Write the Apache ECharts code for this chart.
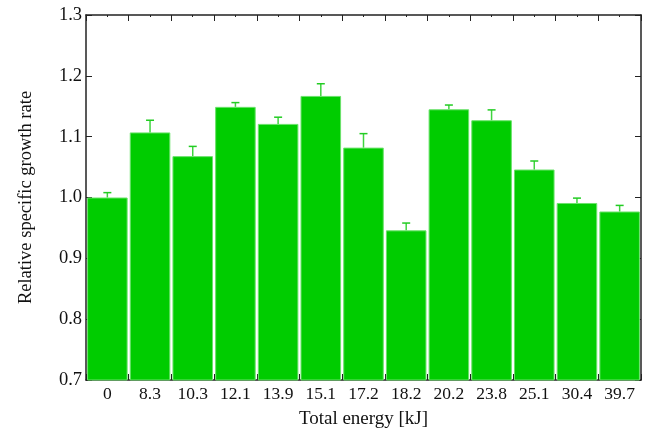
<!DOCTYPE html>
<html>
<head>
<meta charset="utf-8">
<script src="https://cdn.jsdelivr.net/npm/echarts@6/dist/echarts.min.js"></script>
<style>html,body{margin:0;padding:0;background:#fff}#c{width:645px;height:432px}</style>
</head>
<body>
<div id="c"></div>
<script>
const categories = ['0','8.3','10.3','12.1','13.9','15.1','17.2','18.2','20.2','23.8','25.1','30.4','39.7'];
const values = [1.000,1.107,1.068,1.149,1.121,1.167,1.082,0.946,1.145,1.127,1.046,0.991,0.977];
const errorTops = [1.008,1.127,1.084,1.156,1.132,1.187,1.105,0.958,1.152,1.144,1.060,0.999,0.987];
const yTicks = [0.7,0.8,0.9,1.0,1.1,1.2,1.3];

const chart = echarts.init(document.getElementById('c'));
const font = 'Liberation Serif';
const axisCol = '#222';
function xa(pos, major, show){
  return {
    type:'category', data:categories, position:pos, boundaryGap:true,
    axisLine:{show:show, lineStyle:{color:axisCol,width:1.5}},
    axisTick:{show:true, inside:true, alignWithLabel:!major, length: major?6:2, lineStyle:{color:axisCol,width:1}},
    axisLabel:{show: pos==='bottom' && major, color:'#111', fontFamily:font, fontSize:17.5, margin:5},
    name: (pos==='bottom' && major) ? 'Total energy [kJ]' : '',
    nameLocation:'middle', nameGap:30,
    nameTextStyle:{color:'#111', fontFamily:font, fontSize:19},
    splitLine:{show:false}
  };
}
function ya(pos, show){
  return {
    type:'value', min:yTicks[0], max:yTicks[yTicks.length-1], interval:0.1, position:pos,
    axisLine:{show:true, lineStyle:{color:axisCol,width:1.5}},
    axisTick:{show:true, inside:true, length:6, lineStyle:{color:axisCol,width:1}},
    axisLabel:{show:show, color:'#111', fontFamily:font, fontSize:18.5, margin:4,
      formatter:v=>v.toFixed(1)},
    name: show ? 'Relative specific growth rate' : '',
    nameLocation:'middle', nameGap:50,
    nameTextStyle:{color:'#111', fontFamily:font, fontSize:18.5},
    splitLine:{show:false}
  };
}
chart.setOption({
  animation:false,
  grid:{left:86, right:4, top:15, bottom:52, outerBoundsMode:'none', containLabel:false},
  xAxis:[xa('bottom',true,true), xa('bottom',false,false), xa('top',true,true), xa('top',false,false)],
  yAxis:[ya('left',true), ya('right',false)],
  series:[
    {type:'bar', data:values, xAxisIndex:0, yAxisIndex:0, barCategoryGap:'5%',
     itemStyle:{color:'#00cc00', borderColor:'#6be26b', borderWidth:1}},
    {type:'custom', xAxisIndex:0, yAxisIndex:0, z:5,
     data: values.map((v,i)=>[i, v, errorTops[i]]),
     renderItem:(params, api)=>{
       const p0 = api.coord([api.value(0), api.value(1)]);
       const p1 = api.coord([api.value(0), api.value(2)]);
       const hw = 4;
       return {type:'group', children:[
         {type:'line', shape:{x1:p0[0],y1:p0[1],x2:p1[0],y2:p1[1]}, style:{stroke:'#3fd43f', lineWidth:1.5}},
         {type:'line', shape:{x1:p1[0]-hw,y1:p1[1],x2:p1[0]+hw,y2:p1[1]}, style:{stroke:'#22cc22', lineWidth:1.5}}
       ]};
     }}
  ]
});
</script>
</body>
</html>
